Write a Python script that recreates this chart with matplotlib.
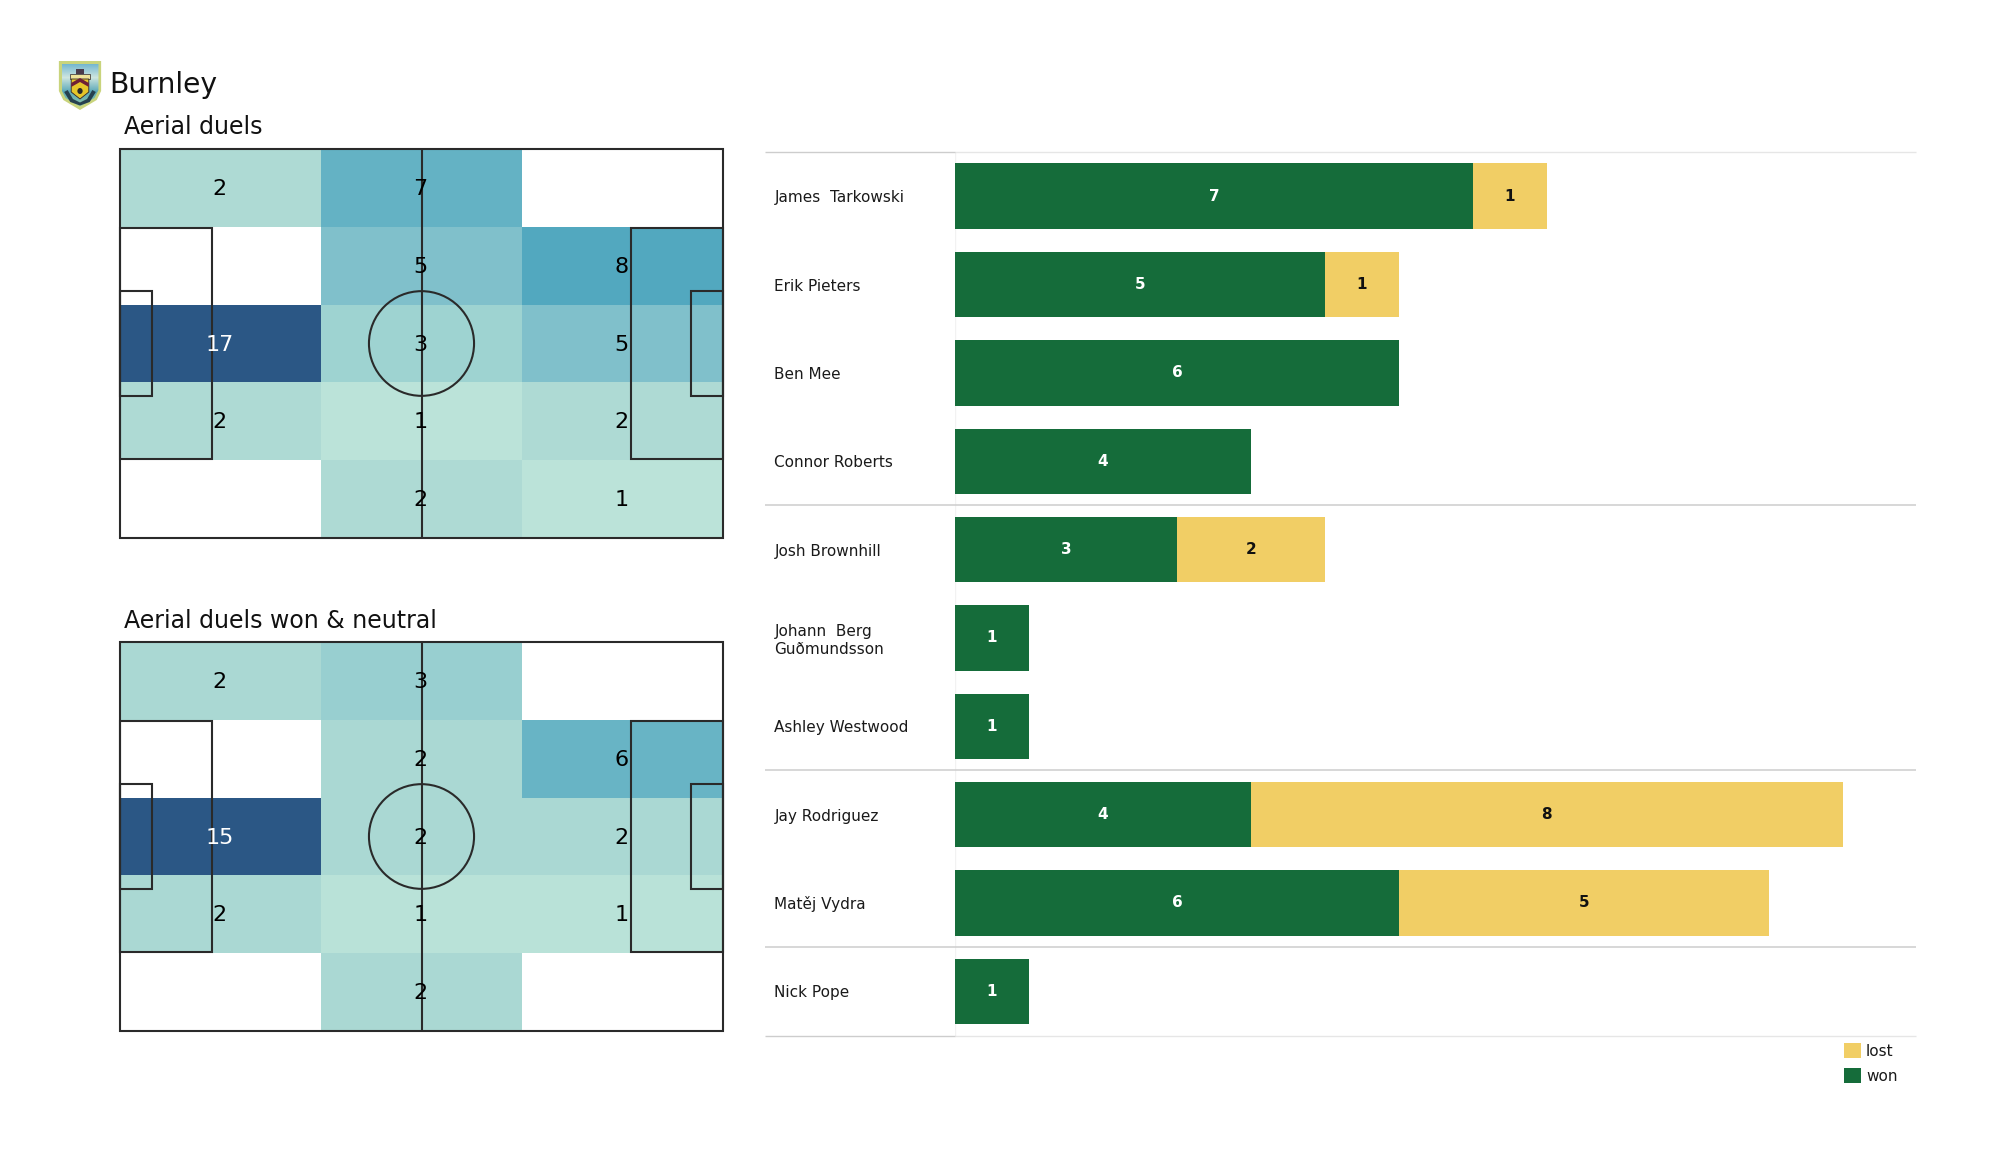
import numpy as np
import matplotlib
matplotlib.use("Agg")
import matplotlib.pyplot as plt
from matplotlib.colors import LinearSegmentedColormap, Normalize
from matplotlib.patches import Circle, Polygon, Rectangle

W, H = 2000, 1175

team = "Burnley"
pitch_titles = ["Aerial duels", "Aerial duels won & neutral"]
duels_all = [[2, 7, 0],
             [0, 5, 8],
             [17, 3, 5],
             [2, 1, 2],
             [0, 2, 1]]
duels_won = [[2, 3, 0],
             [0, 2, 6],
             [15, 2, 2],
             [2, 1, 1],
             [0, 2, 0]]

players = ["James  Tarkowski", "Erik Pieters", "Ben Mee", "Connor Roberts",
           "Josh Brownhill", "Johann  Berg\nGuðmundsson", "Ashley Westwood",
           "Jay Rodriguez", "Matěj Vydra", "Nick Pope"]
won = [7, 5, 6, 4, 3, 1, 1, 4, 6, 1]
lost = [1, 1, 0, 0, 2, 0, 0, 8, 5, 0]
group_breaks = [4, 7, 9]

GREEN = "#156c3a"
YELLOW = "#f1ce65"
LINE = "#2a2a2a"

heat = LinearSegmentedColormap.from_list("heat", [
    (0.0, "#c5e9dd"), (0.06, "#bbe3d9"), (0.125, "#acd9d3"), (0.19, "#9ad1d1"),
    (0.294, "#80c0cb"), (0.40, "#68b4c5"), (0.47, "#52a8bf"), (1.0, "#2b5785")])


def px_axes(fig, left, top, right, bottom):
    return fig.add_axes([left / W, 1 - bottom / H, (right - left) / W, (bottom - top) / H])


def draw_pitch(ax, values):
    values = np.array(values, dtype=float)
    xedges = np.linspace(0, 105, 4)
    yedges = np.linspace(0, 68, 6)
    ax.pcolormesh(xedges, yedges, np.ma.masked_equal(values, 0), cmap=heat,
                  norm=Normalize(0, values.max()), linewidth=0, zorder=1)

    # pitch markings
    kw = dict(fill=False, ec=LINE, lw=1.5, zorder=2, clip_on=False)
    ax.add_patch(Rectangle((0, 0), 105, 68, **kw))
    ax.add_patch(Rectangle((0, 13.84), 16, 40.32, **kw))
    ax.add_patch(Rectangle((89, 13.84), 16, 40.32, **kw))
    ax.add_patch(Rectangle((0, 24.84), 5.5, 18.32, **kw))
    ax.add_patch(Rectangle((99.5, 24.84), 5.5, 18.32, **kw))
    ax.add_patch(Circle((52.5, 34), 9.15, **kw))
    ax.plot([52.5, 52.5], [0, 68], color=LINE, lw=1.5, zorder=2)

    for r in range(values.shape[0]):
        for c in range(values.shape[1]):
            if values[r, c] > 0:
                color = "white" if values[r, c] == values.max() else "black"
                ax.text((xedges[c] + xedges[c + 1]) / 2 - 0.2, (yedges[r] + yedges[r + 1]) / 2 + 0.2,
                        f"{values[r, c]:.0f}", ha="center", va="center",
                        fontsize=16, color=color, zorder=3)

    ax.set_xlim(0, 105)
    ax.set_ylim(68, 0)
    ax.axis("off")


def draw_crest(ax):
    ax.set_xlim(0, 100)
    ax.set_ylim(0, 100)
    ax.axis("off")
    shield = [(2, 98), (98, 98), (98, 38), (88, 20), (50, 0), (12, 20), (2, 38)]
    ax.add_patch(Polygon(shield, fc="#c9d47c", ec="none"))
    inner = Polygon([(8, 92), (92, 92), (92, 40), (83, 24), (50, 7), (17, 24), (8, 40)],
                    fc="none", ec="none")
    ax.add_patch(inner)
    sky = np.linspace(0, 1, 40).reshape(-1, 1)
    sky_cmap = LinearSegmentedColormap.from_list("sky", ["#6fb4cf", "#cfe6e0", "#5aa7b8", "#8cc7a8"])
    im = ax.imshow(sky, extent=(8, 92, 7, 92), cmap=sky_cmap, aspect="auto", zorder=1)
    im.set_clip_path(inner)
    ax.set_xlim(0, 100)
    ax.set_ylim(0, 100)
    # castle, shield and scroll
    ax.add_patch(Rectangle((40, 72), 20, 10, fc="#4a3a4a", zorder=2))
    ax.add_patch(Rectangle((28, 62), 44, 10, fc="#efe39a", ec="#2e2428", lw=0.5, zorder=2))
    ax.add_patch(Polygon([(30, 62), (70, 62), (70, 36), (50, 22), (30, 36)],
                         fc="#e6c62a", ec="#2e2428", lw=0.6, zorder=2))
    ax.add_patch(Polygon([(30, 54), (50, 64), (70, 54), (70, 46), (50, 56), (30, 46)],
                         fc="#6e2036", zorder=3))
    ax.add_patch(Circle((50, 38), 6, fc="#2a2a2a", zorder=3))
    ax.add_patch(Polygon([(14, 36), (22, 40), (34, 22), (50, 15), (66, 22), (78, 40), (86, 36),
                          (72, 16), (50, 9), (28, 16)], fc="#26414f", zorder=3))


fig = plt.figure(figsize=(W / 100, H / 100), dpi=100)

draw_crest(px_axes(fig, 58, 60, 102, 110))
fig.text(109 / W, 1 - 93 / H, team, fontsize=20.3, color="#111111", va="baseline")

pitch_boxes = [(120, 149, 723, 538), (120, 642, 723, 1031)]
title_baselines = [134, 628]
for box, title, base, values in zip(pitch_boxes, pitch_titles, title_baselines, [duels_all, duels_won]):
    draw_pitch(px_axes(fig, *box), values)
    fig.text(124 / W, 1 - base / H, title, fontsize=17, color="#111111", va="baseline")

# stacked bars
ax = px_axes(fig, 955, 152, 1916, 1035.5)
ypos = np.arange(len(players))
won_bars = ax.barh(ypos, won, height=0.74, color=GREEN, label="won", zorder=2)
lost_bars = ax.barh(ypos, lost, left=won, height=0.74, color=YELLOW, label="lost", zorder=2)
ax.bar_label(won_bars, labels=[str(v) if v else "" for v in won], label_type="center",
             color="white", fontweight="bold", fontsize=11)
ax.bar_label(lost_bars, labels=[str(v) if v else "" for v in lost], label_type="center",
             color="#111111", fontweight="bold", fontsize=11)

ax.set_xlim(0, 12.99)
ax.set_ylim(len(players) - 0.5, -0.5)
ax.set_xticks([])
ax.set_yticks(ypos)
ax.set_yticklabels(players, ha="left", fontsize=11, color="#1a1a1a", linespacing=1.25)
ax.tick_params(axis="y", length=0, pad=130)
for side in ["top", "right", "bottom", "left"]:
    ax.spines[side].set_visible(False)
ax.axvline(0, color="#f2f2f2", lw=1, zorder=1)

trans = ax.get_yaxis_transform()
left_end = (765 - 955) / (1916 - 955)
for b in group_breaks:
    ax.hlines(b - 0.5, left_end, 1, transform=trans, color="#cdcdcd", lw=1.1, clip_on=False)
for y in [-0.5, len(players) - 0.5]:
    ax.hlines(y, 0, 1, transform=trans, color="#e6e6e6", lw=1.0, clip_on=False)
    ax.hlines(y, left_end, 0, transform=trans, color="#cdcdcd", lw=1.0, clip_on=False)

ax.legend(handles=[lost_bars, won_bars], loc="upper left", frameon=False, fontsize=11,
          bbox_to_anchor=((1844 - 955) / 961, (1035.5 - 1043) / 883.5), borderpad=0, borderaxespad=0,
          handlelength=1.1, handleheight=1.1, handletextpad=0.34, labelspacing=0.62,
          labelcolor="#1a1a1a")

fig.savefig("out.png", dpi=100, facecolor="white")
plt.close(fig)
